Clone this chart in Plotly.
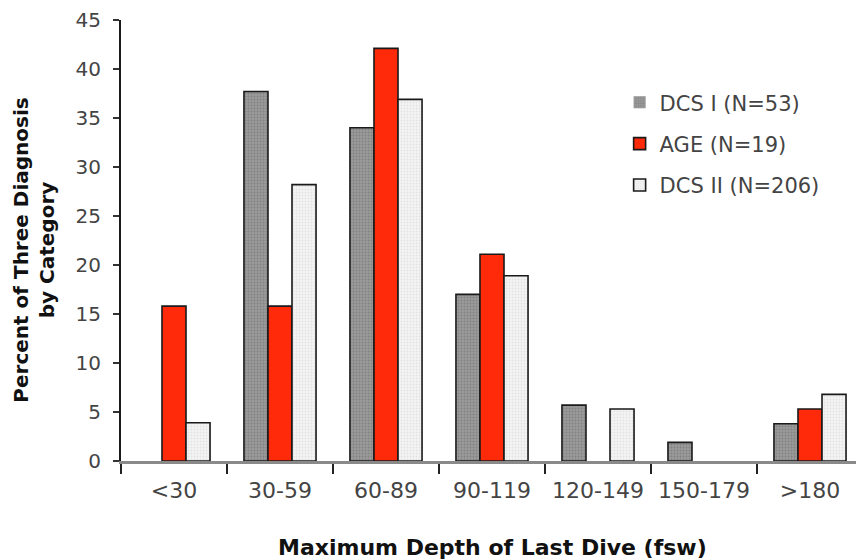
import plotly.graph_objects as go

categories = ["<30", "30-59", "60-89", "90-119", "120-149", "150-179", ">180"]
dcs1 = [0, 37.7, 34.0, 17.0, 5.7, 1.9, 3.8]
age = [15.8, 15.8, 42.1, 21.1, 0, 0, 5.3]
dcs2 = [3.9, 28.2, 36.9, 18.9, 5.3, 0, 6.8]
series_names = ["DCS I (N=53)", "AGE (N=19)", "DCS II (N=206)"]
y_ticks = [0, 5, 10, 15, 20, 25, 30, 35, 40, 45]

FONT = "DejaVu Sans, Liberation Sans, Arial, sans-serif"


def outline(vals):
    # no outline for empty (zero) bars
    return [1.6 if v > 0 else 0 for v in vals]


fig = go.Figure()
fig.add_trace(go.Bar(
    x=categories, y=dcs1, name=series_names[0], legendgroup="a",
    marker=dict(color="#8c8c8c", line=dict(color="#1a1a1a", width=outline(dcs1)),
                pattern=dict(shape=".", size=3, solidity=0.35, fgcolor="#6a6a6a", bgcolor="#9a9a9a")),
))
fig.add_trace(go.Bar(
    x=categories, y=age, name=series_names[1], legendgroup="b",
    marker=dict(color="#ff2a0a", line=dict(color="#1a1a1a", width=outline(age))),
))
fig.add_trace(go.Bar(
    x=categories, y=dcs2, name=series_names[2], legendgroup="c",
    marker=dict(color="#ececec", line=dict(color="#1a1a1a", width=outline(dcs2)),
                pattern=dict(shape=".", size=3, solidity=0.3, fgcolor="#d0d0d0", bgcolor="#f4f4f4")),
))

fig.update_layout(
    width=856, height=552,
    margin=dict(l=113, r=1, t=12, b=99),
    paper_bgcolor="white", plot_bgcolor="white",
    barmode="group", bargap=0.32, bargroupgap=0,
    font=dict(family=FONT, size=20, color="#444444"),
    showlegend=True,
    legend=dict(x=0.672, y=0.859, xanchor="left", yanchor="top",
                font=dict(family=FONT, size=21, color="#444444"),
                bgcolor="rgba(0,0,0,0)", tracegroupgap=11, itemwidth=30),
    xaxis=dict(
        type="category", range=[-0.5, 6.5], tickson="boundaries",
        showline=True, linecolor="#8a8a8a", linewidth=3,
        ticks="outside", ticklen=10, tickwidth=2, tickcolor="#222222",
        showgrid=False, zeroline=False, ticklabelstandoff=8,
        tickfont=dict(family=FONT, size=22, color="#444444"),
    ),
    yaxis=dict(
        range=[0, 45], tickvals=y_ticks,
        showline=True, linecolor="#1a1a1a", linewidth=2,
        ticks="outside", ticklen=6, tickwidth=2, tickcolor="#333333",
        showgrid=False, zeroline=False, ticklabelstandoff=8,
        tickfont=dict(family=FONT, size=20, color="#444444"),
    ),
    annotations=[
        dict(text="<b>Maximum Depth of Last Dive (fsw)</b>", xref="paper", yref="paper",
             x=0.5, y=-0.197, xanchor="center", yanchor="middle", showarrow=False,
             font=dict(family=FONT, size=22, color="#111111")),
        dict(text="<b>Percent of Three Diagnosis<br>by Category</b>", xref="paper", yref="paper",
             x=-0.1166, y=0.478, xanchor="center", yanchor="middle", showarrow=False,
             textangle=-90, font=dict(family=FONT, size=20, color="#111111")),
    ],
)

fig.write_html("out.html")
